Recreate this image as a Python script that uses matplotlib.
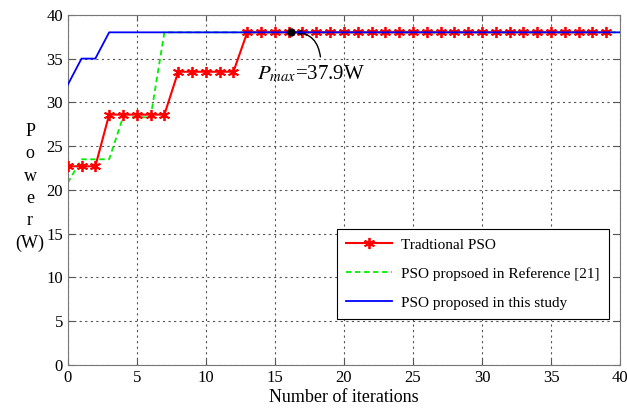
import matplotlib
matplotlib.use("Agg")
import matplotlib.pyplot as plt
import numpy as np

# Data
trad_x = list(range(0, 40))
trad_y = [22.7]*3 + [28.6]*5 + [33.5]*5 + [38.0]*27
ref_x = [0, 1, 3, 4, 6, 7, 40]
ref_y = [20.8, 23.5, 23.5, 28.3, 28.3, 38.0, 38.0]
new_x = [0, 1, 2, 3, 40]
new_y = [32.0, 35.0, 35.0, 38.0, 38.0]
pmax_x, pmax_y = 16.2, 38.0
xticks = [0, 5, 10, 15, 20, 25, 30, 35, 40]
yticks = [0, 5, 10, 15, 20, 25, 30, 35, 40]
labels = ["Tradtional PSO", "PSO propsoed in Reference [21]", "PSO proposed in this study"]

plt.rcParams['font.family'] = ['Liberation Serif', 'DejaVu Serif']
plt.rcParams['mathtext.fontset'] = 'stix'

fig = plt.figure(figsize=(6.27, 4.12), dpi=100)
ax = fig.add_axes([0.108, 0.114, 0.881, 0.850])

ax.plot(trad_x, trad_y, color='red', lw=1.5, marker=(6, 2, 0), ms=8, mew=1.3, label=labels[0], zorder=3)
ax.plot(ref_x, ref_y, color='#00ee00', lw=1.3, ls=(0, (3, 2)), label=labels[1], zorder=2)
ax.plot(new_x, new_y, color='blue', lw=1.3, label=labels[2], zorder=4)
ax.plot([pmax_x], [pmax_y], 'ko', ms=5, zorder=5)
ax.text(13.7, 33.2, r'$P_{max}$=37.9W', fontsize=15, ha='left', va='center')
ax.annotate('', xy=(pmax_x, pmax_y), xytext=(18.3, 35.2),
            arrowprops=dict(arrowstyle='-|>', color='black', lw=1.0,
                            connectionstyle='arc3,rad=0.45',
                            shrinkA=0, shrinkB=3, mutation_scale=8))

ax.set_xlim(0, 40)
ax.set_ylim(0, 40)
ax.set_xticks(xticks)
ax.set_yticks(yticks)
ax.tick_params(direction='in', top=True, right=True, labelsize=12, length=4, color='#555555')
ax.grid(True, ls=(0, (2, 3)), color='#555555', lw=0.8)
for s in ax.spines.values():
    s.set_color('#777777')

ax.set_xlabel('Number of iterations', fontsize=13, labelpad=2)
fig.text(0.048, 0.545, 'P\no\nw\ne\nr\n(W)', ha='center', va='center', fontsize=13, linespacing=1.4)

leg = ax.legend(loc='lower right', bbox_to_anchor=(0.994, 0.11), fontsize=11, frameon=True,
                fancybox=False, edgecolor='black', framealpha=1, labelspacing=1.0,
                handlelength=3.0, handletextpad=0.6, borderpad=0.6)
leg.get_frame().set_linewidth(0.8)

fig.savefig('out.png', dpi=100)
